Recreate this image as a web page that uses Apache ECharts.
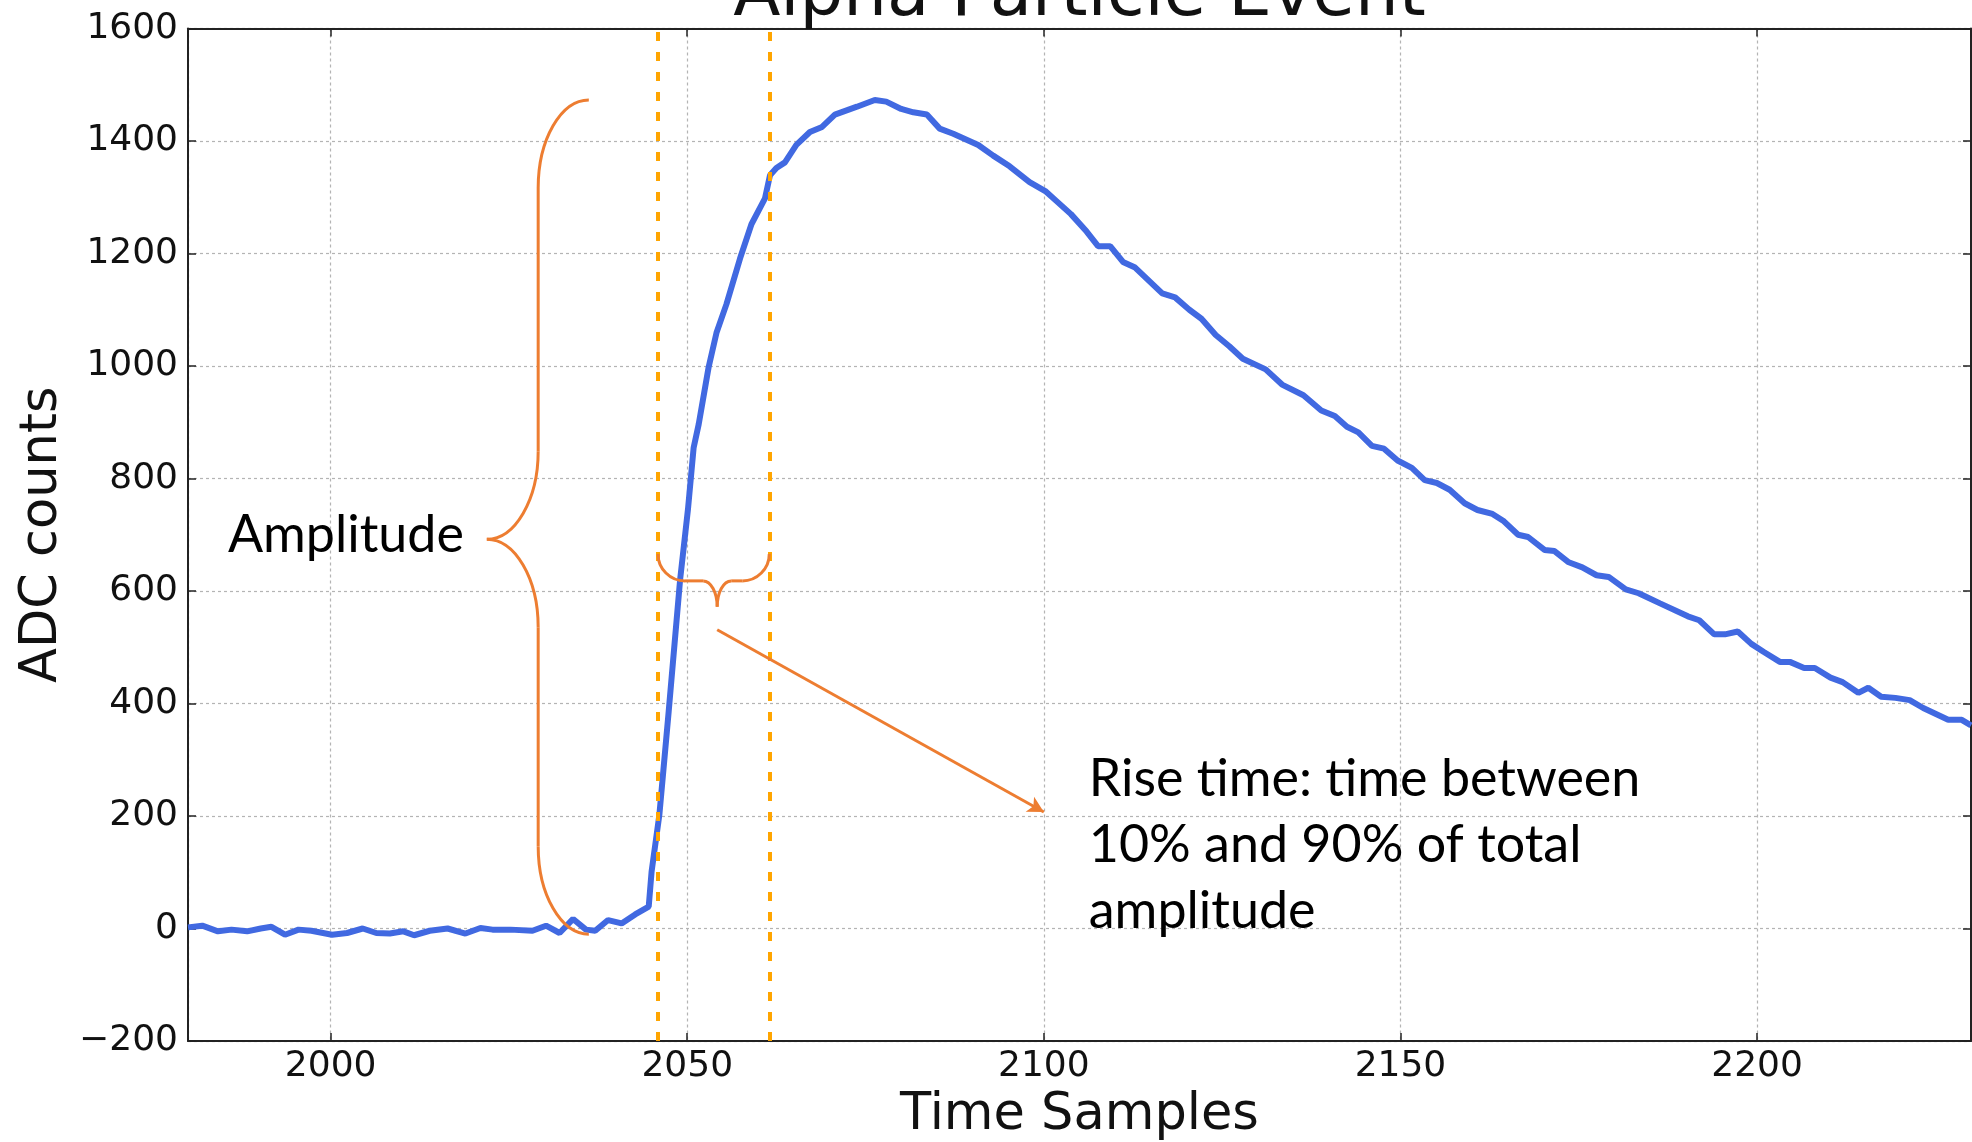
<!DOCTYPE html>
<html><head><meta charset="utf-8">
<script src="https://cdn.jsdelivr.net/npm/echarts@6/dist/echarts.min.js"></script>
<style>html,body{margin:0;padding:0;background:#fff}#chart{width:1972px;height:1142px}</style>
</head><body><div id="chart"></div>
<script>
// ---- data ----
const sampleTimes = [
  1980, 1982, 1984.2, 1986.1, 1988.3, 1990.2, 1991.7, 1993.6, 1995.5, 1997.3,
  2000.2, 2002.3, 2004.5, 2006.4, 2008.3, 2010.2, 2011.7, 2013.9, 2016.4, 2018.9,
  2021.0, 2022.7, 2025.2, 2028.3, 2030.2, 2032.1, 2034.0, 2035.8, 2037.1, 2038.9,
  2040.8, 2042.7, 2044.6, 2045.0, 2046.1, 2047.4, 2049.0, 2050.1, 2050.9, 2051.6,
  2053.0, 2054.1, 2055.5, 2057.4, 2059.0, 2060.9, 2061.6, 2062.5, 2063.7, 2065.3,
  2067.2, 2068.9, 2070.7, 2073.8, 2076.3, 2077.9, 2080.0, 2081.7, 2083.6, 2085.4,
  2087.3, 2090.8, 2092.9, 2095.2, 2098.0, 2100.2, 2101.7, 2103.8, 2106.0, 2107.6,
  2109.3, 2111.1, 2112.8, 2116.6, 2118.4, 2120.4, 2122.1, 2124.1, 2126.0, 2127.9,
  2131.1, 2133.4, 2136.4, 2138.9, 2140.8, 2142.5, 2144.1, 2146.0, 2147.7, 2149.6,
  2151.6, 2153.4, 2155.1, 2156.9, 2159.0, 2160.8, 2162.9, 2164.4, 2166.5, 2167.9,
  2170.2, 2171.6, 2173.6, 2175.5, 2177.5, 2179.2, 2181.6, 2183.4, 2186.4, 2190.3,
  2191.9, 2194.0, 2195.5, 2197.3, 2199.2, 2200.9, 2203.2, 2204.6, 2206.6, 2208.1,
  2210.3, 2212.0, 2214.2, 2215.6, 2217.4, 2219.4, 2221.4, 2223.3, 2226.8, 2228.7,
  2230
];
const adcCounts = [
  2, 5, -5, -2, -5, 0, 3, -11, -2, -4,
  -11, -8, 0, -8, -9, -5, -12, -4, 0, -9,
  1, -2, -2, -4, 5, -8, 17, -2, -4, 15,
  9, 25, 39, 101, 203, 386, 620, 745, 855, 896,
  998, 1059, 1110, 1191, 1252, 1298, 1339, 1352, 1362, 1393,
  1416, 1425, 1447, 1461, 1473, 1470, 1457, 1451, 1447, 1422,
  1413, 1393, 1374, 1355, 1327, 1311, 1294, 1270, 1239, 1213,
  1213, 1185, 1175, 1129, 1122, 1100, 1084, 1055, 1035, 1013,
  994, 967, 948, 921, 911, 892, 882, 858, 853, 832,
  819, 797, 792, 780, 756, 744, 737, 725, 700, 696,
  673, 671, 651, 642, 628, 625, 603, 596, 578, 555,
  548, 523, 523, 528, 506, 492, 474, 474, 463, 463,
  446, 438, 419, 428, 412, 410, 406, 392, 371, 371,
  361
];
const riseMarkers = [2045.9, 2061.5];           // 10% and 90% sample positions
const xRange = [1980, 2230];
const yRange = [-200, 1600];

// annotation anchors in data units
const amplitudeBrace = { x: 2036.2, top: 1473, bottom: -10, spineX: 2029.1, tipX: 2021.9, tipY: 692 };
const riseBrace = { y: 666, tipX: 2054.2, tipY: 572 };
const arrowFrom = [2054.2, 531];
const arrowTo = [2100.0, 207];
const amplitudeLabelAt = [1985.6];
const riseLabelAt = [2106.3];

const ORANGE = '#ED7D31';
const TICK_FONT = 'DejaVu Sans';

const chart = echarts.init(document.getElementById('chart'), null, { renderer: 'canvas' });
const spine = { color: '#222', width: 2 };
const tick = { show: true, inside: true, length: 8, lineStyle: { color: '#222', width: 1.5 } };
const gridLine = { show: true, lineStyle: { color: '#b4b4b4', width: 1.2, type: [3, 3] } };

chart.setOption({
  animation: false,
  backgroundColor: '#fff',
  grid: { left: 188, right: 1, top: 28.5, bottom: 101, containLabel: false, outerBoundsMode: 'none' },
  xAxis: [
    {
      type: 'value', min: xRange[0], max: xRange[1], splitNumber: 5, position: 'bottom',
      axisLine: { show: true, onZero: false, lineStyle: spine },
      axisTick: tick,
      axisLabel: { showMinLabel: false, showMaxLabel: false, margin: 8, color: '#111',
        fontFamily: TICK_FONT, fontSize: 36, formatter: v => String(v) },
      splitLine: gridLine,
      name: 'Time Samples', nameLocation: 'middle', nameGap: 48,
      nameTextStyle: { fontFamily: TICK_FONT, fontSize: 51, color: '#111' }
    },
    {
      type: 'value', min: xRange[0], max: xRange[1], splitNumber: 5, position: 'top',
      axisLine: { show: true, onZero: false, lineStyle: spine },
      axisTick: tick, axisLabel: { show: false }, splitLine: { show: false }
    }
  ],
  yAxis: [
    {
      type: 'value', min: yRange[0], max: yRange[1], interval: 200, position: 'left',
      axisLine: { show: true, onZero: false, lineStyle: spine },
      axisTick: tick,
      axisLabel: { margin: 10, color: '#111', fontFamily: TICK_FONT, fontSize: 36,
        formatter: v => (v < 0 ? '\u2212' + Math.abs(v) : String(v)) },
      splitLine: gridLine,
      name: 'ADC counts', nameLocation: 'middle', nameGap: 120,
      nameTextStyle: { fontFamily: TICK_FONT, fontSize: 51, color: '#111' }
    },
    {
      type: 'value', min: yRange[0], max: yRange[1], interval: 200, position: 'right',
      axisLine: { show: true, onZero: false, lineStyle: spine },
      axisTick: tick, axisLabel: { show: false }, splitLine: { show: false }
    }
  ],
  series: [
    {
      name: 'Waveform', type: 'line', xAxisIndex: 0, yAxisIndex: 0,
      data: sampleTimes.map((t, i) => [t, adcCounts[i]]),
      showSymbol: false, symbol: 'none',
      lineStyle: { color: '#4169E1', width: 6 },
      z: 2
    },
    {
      name: 'Markers', type: 'line', xAxisIndex: 0, yAxisIndex: 0, data: [], z: 3,
      markLine: {
        silent: true, animation: false, symbol: ['none', 'none'], label: { show: false },
        lineStyle: { color: '#FFA500', width: 4, type: [9, 11] },
        emphasis: { disabled: true },
        data: riseMarkers.map(x => ({ xAxis: x }))
      }
    },
    {
      name: 'Arrow', type: 'line', xAxisIndex: 0, yAxisIndex: 0, data: [], z: 4,
      markLine: {
        silent: true, animation: false, symbol: ['none', 'arrow'], symbolSize: [13, 16],
        label: { show: false },
        lineStyle: { color: ORANGE, width: 3, type: 'solid' },
        emphasis: { disabled: true },
        data: [[{ coord: arrowFrom }, { coord: arrowTo }]]
      }
    }
  ]
});

function px(x, y) { return chart.convertToPixel({ xAxisIndex: 0, yAxisIndex: 0 }, [x, y]); }

const k = 0.55;
const strokeStyle = { fill: 'none', stroke: ORANGE, lineWidth: 3 };
function seg(a, b) {
  return { type: 'line', z: 100, shape: { x1: a[0], y1: a[1], x2: b[0], y2: b[1] }, style: strokeStyle };
}
function bez(a, c1, c2, b) {
  return { type: 'bezierCurve', z: 100,
    shape: { x1: a[0], y1: a[1], cpx1: c1[0], cpy1: c1[1], cpx2: c2[0], cpy2: c2[1], x2: b[0], y2: b[1] },
    style: strokeStyle };
}

// amplitude brace (pointing left)
const bTop = px(amplitudeBrace.x, amplitudeBrace.top);
const bBot = px(amplitudeBrace.x, amplitudeBrace.bottom);
const bTip = px(amplitudeBrace.tipX, amplitudeBrace.tipY);
const xs = px(amplitudeBrace.spineX, 0)[0];
const x0 = bTop[0], xt = bTip[0], yT = bTop[1], yB = bBot[1], yM = bTip[1];
const r = 88;
const bigBrace = [
  bez([x0, yT], [x0 - k * (x0 - xs), yT], [xs, yT + r - k * r], [xs, yT + r]),
  seg([xs, yT + r], [xs, yM - r]),
  bez([xs, yM - r], [xs, yM - r + k * r], [xt + k * (xs - xt), yM], [xt, yM]),
  bez([xt, yM], [xt + k * (xs - xt), yM], [xs, yM + r - k * r], [xs, yM + r]),
  seg([xs, yM + r], [xs, yB - r]),
  bez([xs, yB - r], [xs, yB - r + k * r], [x0 - k * (x0 - xs), yB], [x0, yB])
];

// rise-time brace (pointing down)
const sL = px(riseMarkers[0], riseBrace.y);
const sR = px(riseMarkers[1], riseBrace.y);
const sTip = px(riseBrace.tipX, riseBrace.tipY);
const yE = sL[1], xL = sL[0], xR = sR[0], xm = sTip[0], yTip = sTip[1];
const ryE = 27, rxE = 27, ryT = 26, rxT = 14;
const yH = yE + ryE;
const smallBrace = [
  bez([xL, yE], [xL, yE + k * ryE], [xL + rxE - k * rxE, yH], [xL + rxE, yH]),
  seg([xL + rxE, yH], [xm - rxT, yH]),
  bez([xm - rxT, yH], [xm - rxT + k * rxT, yH], [xm, yTip - k * ryT], [xm, yTip]),
  bez([xm, yTip], [xm, yTip - k * ryT], [xm + rxT - k * rxT, yH], [xm + rxT, yH]),
  seg([xm + rxT, yH], [xR - rxE, yH]),
  bez([xR - rxE, yH], [xR - rxE + k * rxE, yH], [xR, yE + k * ryE], [xR, yE])
];

const ampPos = px(amplitudeLabelAt[0], 0);
const risePos = px(riseLabelAt[0], 0);
const plotCenterX = (px(xRange[0], 0)[0] + px(xRange[1], 0)[0]) / 2;

chart.setOption({
  graphic: [
    { type: 'text', x: plotCenterX, y: 32, z: 100,
      style: { text: 'Alpha Particle Event', fontFamily: TICK_FONT, fontSize: 69, fill: '#111',
        textAlign: 'center', textVerticalAlign: 'bottom' } },
    ...bigBrace,
    ...smallBrace,
    { type: 'text', x: ampPos[0], y: 535, z: 100,
      style: { text: 'Amplitude', fontFamily: 'Lato', fontSize: 52, fill: '#000',
        textAlign: 'left', textVerticalAlign: 'middle' } },
    { type: 'text', x: risePos[0], y: 746, z: 100,
      style: { text: 'Rise time: time between\n10% and 90% of total\namplitude', fontFamily: 'Lato',
        fontSize: 52, lineHeight: 66, fill: '#000', textAlign: 'left', textVerticalAlign: 'top' } }
  ]
});
</script>
</body></html>
